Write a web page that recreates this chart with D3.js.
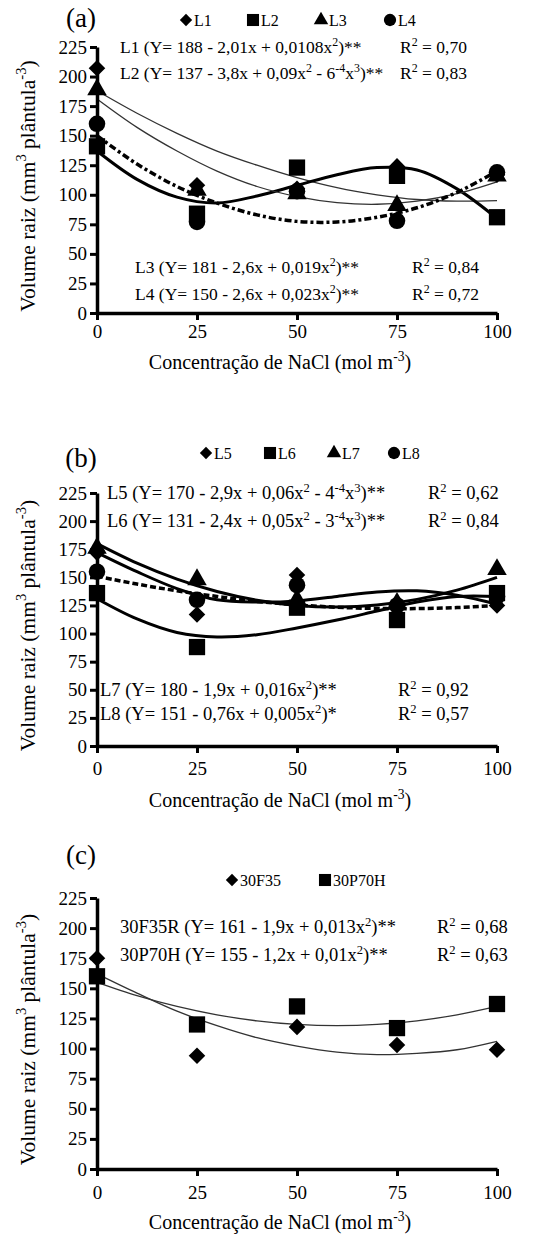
<!DOCTYPE html>
<html>
<head>
<meta charset="utf-8">
<script src="https://cdn.jsdelivr.net/npm/d3@7"></script>
<style>
  body { margin: 0; background: #fff; }
  svg text { font-family: "Liberation Serif", "Times New Roman", "DejaVu Serif", serif; fill: #000; }
</style>
</head>
<body>
<svg id="chart"></svg>
<script>
const concentrations = [0, 25, 50, 75, 100];
const yTicks = [0, 25, 50, 75, 100, 125, 150, 175, 200, 225];
const fitX = [0, 10, 20, 30, 40, 50, 60, 70, 80, 90, 100];

// (a) observed means
const l1Values = [207, 108, 105, 124, 117];
const l2Values = [141, 84, 123, 116, 81];
const l3Values = [189, 104, 101, 91, 116];
const l4Values = [160, 77, 103, 78, 119];
// (a) fitted curves read at fitX
const l1Fit = [188, 169, 152, 137, 125, 114.5, 106, 100, 96, 94.6, 95];
const l2Fit = [137, 113, 98, 93, 99, 108, 117, 123, 121, 105, 80];
const l3Fit = [181, 157, 137, 120, 107, 98.5, 93.4, 92, 94.6, 101, 111];
const l4Fit = [150, 126, 107, 93, 83, 77.5, 77, 81, 89, 102, 120];

// (b)
const l5Values = [172, 117, 152, 125, 125];
const l6Values = [136, 88, 123, 112, 136];
const l7Values = [176, 148, 130, 127, 157];
const l8Values = [155, 130, 143, 125, 133];
const l5Fit = [172, 155, 140, 130, 128, 129, 133, 137, 138, 134, 126];
const l6Fit = [131, 113, 101, 97, 99, 105, 112, 120, 128, 133, 133];
const l7Fit = [180, 162.6, 148.4, 137.4, 129.6, 125, 123.6, 125.4, 130.4, 138.6, 150];
const l8Fit = [151, 144, 138, 133, 128.6, 125.5, 123.4, 122.3, 122.2, 123.1, 125];

// (c)
const f35Values = [175, 94, 118, 103, 99];
const p70Values = [160, 120, 135, 117, 137];
const f35Fit = [162, 146, 131, 119, 109, 102, 97, 95, 96, 99, 106];
const p70Fit = [155, 144, 135, 128, 123, 120, 119, 120, 123, 128, 135];

const width = 544, height = 1239;
const serif = '"Liberation Serif", "Times New Roman", "DejaVu Serif", serif';
const svg = d3.select('#chart').attr('width', width).attr('height', height)
  .attr('font-family', serif);

const sym = {
  diamond: d3.symbolDiamond2 || d3.symbolDiamond,
  square: d3.symbolSquare,
  triangle: d3.symbolTriangle,
  circle: d3.symbolCircle
};
const symSize = { diamond: 175, square: 265, triangle: 165, circle: 215 };

const lineStyle = {
  thin: { w: 1.3, dash: null, color: '#333' },
  thick: { w: 3, dash: null, color: '#000' },
  dashdot: { w: 3.5, dash: '7,3,3,3', color: '#000' },
  dash: { w: 3.5, dash: '6,3', color: '#000' }
};

// text with ^{...} superscripts
function richText(sel, str, size) {
  const parts = str.split(/(\^\{[^}]*\})/).filter(s => s.length);
  let up = false;
  parts.forEach(p => {
    if (p.startsWith('^{')) {
      sel.append('tspan').attr('dy', -size * 0.38).attr('font-size', size * 0.68).text(p.slice(2, -1));
      up = true;
    } else {
      sel.append('tspan').attr('dy', up ? size * 0.38 : null).text(p);
      up = false;
    }
  });
}

const panels = [
  {
    label: '(a)', labelY: 18, top: 47, bottom: 313, tickY: 334, titleY: 362, legendY: 20, eqSize: 17.5,
    series: [
      { name: 'L1', symbol: 'diamond', values: l1Values, fit: l1Fit, style: 'thin', lx: 186 },
      { name: 'L2', symbol: 'square', values: l2Values, fit: l2Fit, style: 'thick', lx: 253 },
      { name: 'L3', symbol: 'triangle', values: l3Values, fit: l3Fit, style: 'thin', lx: 321 },
      { name: 'L4', symbol: 'circle', values: l4Values, fit: l4Fit, style: 'dashdot', lx: 390 }
    ],
    eqs: [
      { t: 'L1 (Y= 188 - 2,01x + 0,0108x^{2})**', r: 'R^{2} = 0,70', x: 120, rx: 400, y: 47 },
      { t: 'L2 (Y= 137 - 3,8x + 0,09x^{2} - 6^{-4}x^{3})**', r: 'R^{2} = 0,83', x: 120, rx: 400, y: 73 },
      { t: 'L3 (Y= 181 - 2,6x + 0,019x^{2})**', r: 'R^{2} = 0,84', x: 135, rx: 412, y: 267 },
      { t: 'L4 (Y= 150 - 2,6x + 0,023x^{2})**', r: 'R^{2} = 0,72', x: 135, rx: 412, y: 294 }
    ]
  },
  {
    label: '(b)', labelY: 458, top: 493, bottom: 746, tickY: 771, titleY: 800, legendY: 453, eqSize: 18.5,
    series: [
      { name: 'L5', symbol: 'diamond', values: l5Values, fit: l5Fit, style: 'thick', lx: 206 },
      { name: 'L6', symbol: 'square', values: l6Values, fit: l6Fit, style: 'thick', lx: 270 },
      { name: 'L7', symbol: 'triangle', values: l7Values, fit: l7Fit, style: 'thick', lx: 334 },
      { name: 'L8', symbol: 'circle', values: l8Values, fit: l8Fit, style: 'dash', lx: 394 }
    ],
    eqs: [
      { t: 'L5 (Y= 170 - 2,9x + 0,06x^{2} - 4^{-4}x^{3})**', r: 'R^{2} = 0,62', x: 107, rx: 428, y: 493 },
      { t: 'L6 (Y= 131 - 2,4x + 0,05x^{2} - 3^{-4}x^{3})**', r: 'R^{2} = 0,84', x: 107, rx: 428, y: 521 },
      { t: 'L7 (Y= 180 - 1,9x + 0,016x^{2})**', r: 'R^{2} = 0,92', x: 100, rx: 398, y: 690 },
      { t: 'L8 (Y= 151 - 0,76x + 0,005x^{2})*', r: 'R^{2} = 0,57', x: 100, rx: 398, y: 714 }
    ]
  },
  {
    label: '(c)', labelY: 855, top: 898, bottom: 1169, tickY: 1195, titleY: 1222, legendY: 880, eqSize: 18.5,
    series: [
      { name: '30F35', symbol: 'diamond', values: f35Values, fit: f35Fit, style: 'thin', lx: 232 },
      { name: '30P70H', symbol: 'square', values: p70Values, fit: p70Fit, style: 'thin', lx: 325 }
    ],
    eqs: [
      { t: '30F35R (Y= 161 - 1,9x + 0,013x^{2})**', r: 'R^{2} = 0,68', x: 120, rx: 437, y: 927 },
      { t: '30P70H (Y= 155 - 1,2x + 0,01x^{2})**', r: 'R^{2} = 0,63', x: 120, rx: 437, y: 955 }
    ]
  }
];

const x = d3.scaleLinear().domain([0, 100]).range([97, 497]);

panels.forEach(p => {
  const y = d3.scaleLinear().domain([0, 225]).range([p.bottom, p.top]);
  const g = svg.append('g');

  // panel letter
  g.append('text')
    .attr('x', 81).attr('y', p.labelY).attr('dy', '0.35em')
    .attr('text-anchor', 'middle').attr('font-size', 27)
    .text(p.label);

  // legend
  const leg = g.append('g').selectAll('g').data(p.series).enter().append('g')
    .attr('transform', d => `translate(${d.lx},${p.legendY})`);
  leg.append('path')
    .attr('d', d => d3.symbol().type(sym[d.symbol]).size(symSize[d.symbol] * 0.55)())
    .attr('fill', '#000');
  leg.append('text')
    .attr('x', 8).attr('dy', '0.35em').attr('font-size', 16)
    .text(d => d.name);

  // fitted curves
  const line = d3.line()
    .x((d, i) => x(fitX[i]))
    .y(d => y(d))
    .curve(d3.curveCatmullRom);
  g.append('g').selectAll('path').data(p.series).enter().append('path')
    .attr('d', d => line(d.fit))
    .attr('fill', 'none')
    .attr('stroke', d => lineStyle[d.style].color)
    .attr('stroke-width', d => lineStyle[d.style].w)
    .attr('stroke-dasharray', d => lineStyle[d.style].dash);

  // observed points
  p.series.forEach(s => {
    g.append('g').selectAll('path').data(s.values).enter().append('path')
      .attr('transform', (d, i) => `translate(${x(concentrations[i])},${y(d)})`)
      .attr('d', d3.symbol().type(sym[s.symbol]).size(symSize[s.symbol]))
      .attr('fill', '#000');
  });

  // axes
  const yAxis = g.append('g')
    .attr('transform', `translate(${x(0)},0)`)
    .call(d3.axisLeft(y).tickValues(yTicks).tickSize(7).tickSizeOuter(0).tickPadding(3));
  const xAxis = g.append('g')
    .attr('transform', `translate(0,${p.bottom})`)
    .call(d3.axisBottom(x).tickValues(concentrations).tickSize(7).tickSizeOuter(0).tickPadding(4));
  [yAxis, xAxis].forEach(a => {
    a.attr('font-family', serif).attr('font-size', 19);
    a.select('.domain').attr('stroke', '#000').attr('stroke-width', 3.5);
    a.selectAll('.tick line').attr('stroke', '#000').attr('stroke-width', 3);
  });
  xAxis.selectAll('.tick text').attr('y', null).attr('dy', null)
    .attr('transform', `translate(0,${p.tickY - p.bottom})`).attr('dominant-baseline', 'middle');

  // axis titles
  const yt = g.append('text')
    .attr('transform', `translate(27,${(p.top + p.bottom) / 2 + 6}) rotate(-90)`)
    .attr('text-anchor', 'middle').attr('dy', '0.35em').attr('font-size', 21.5);
  richText(yt, 'Volume raiz (mm^{3} plântula^{-3})', 21.5);
  const xt = g.append('text')
    .attr('x', 280).attr('y', p.titleY).attr('dy', '0.35em')
    .attr('text-anchor', 'middle').attr('font-size', 20);
  richText(xt, 'Concentração de NaCl (mol m^{-3})', 20);

  // regression equations
  p.eqs.forEach(e => {
    const t = g.append('text').attr('x', e.x).attr('y', e.y).attr('dy', '0.35em').attr('font-size', p.eqSize);
    richText(t, e.t, p.eqSize);
    const r = g.append('text').attr('x', e.rx).attr('y', e.y).attr('dy', '0.35em').attr('font-size', p.eqSize);
    richText(r, e.r, p.eqSize);
  });
});
</script>
</body>
</html>
